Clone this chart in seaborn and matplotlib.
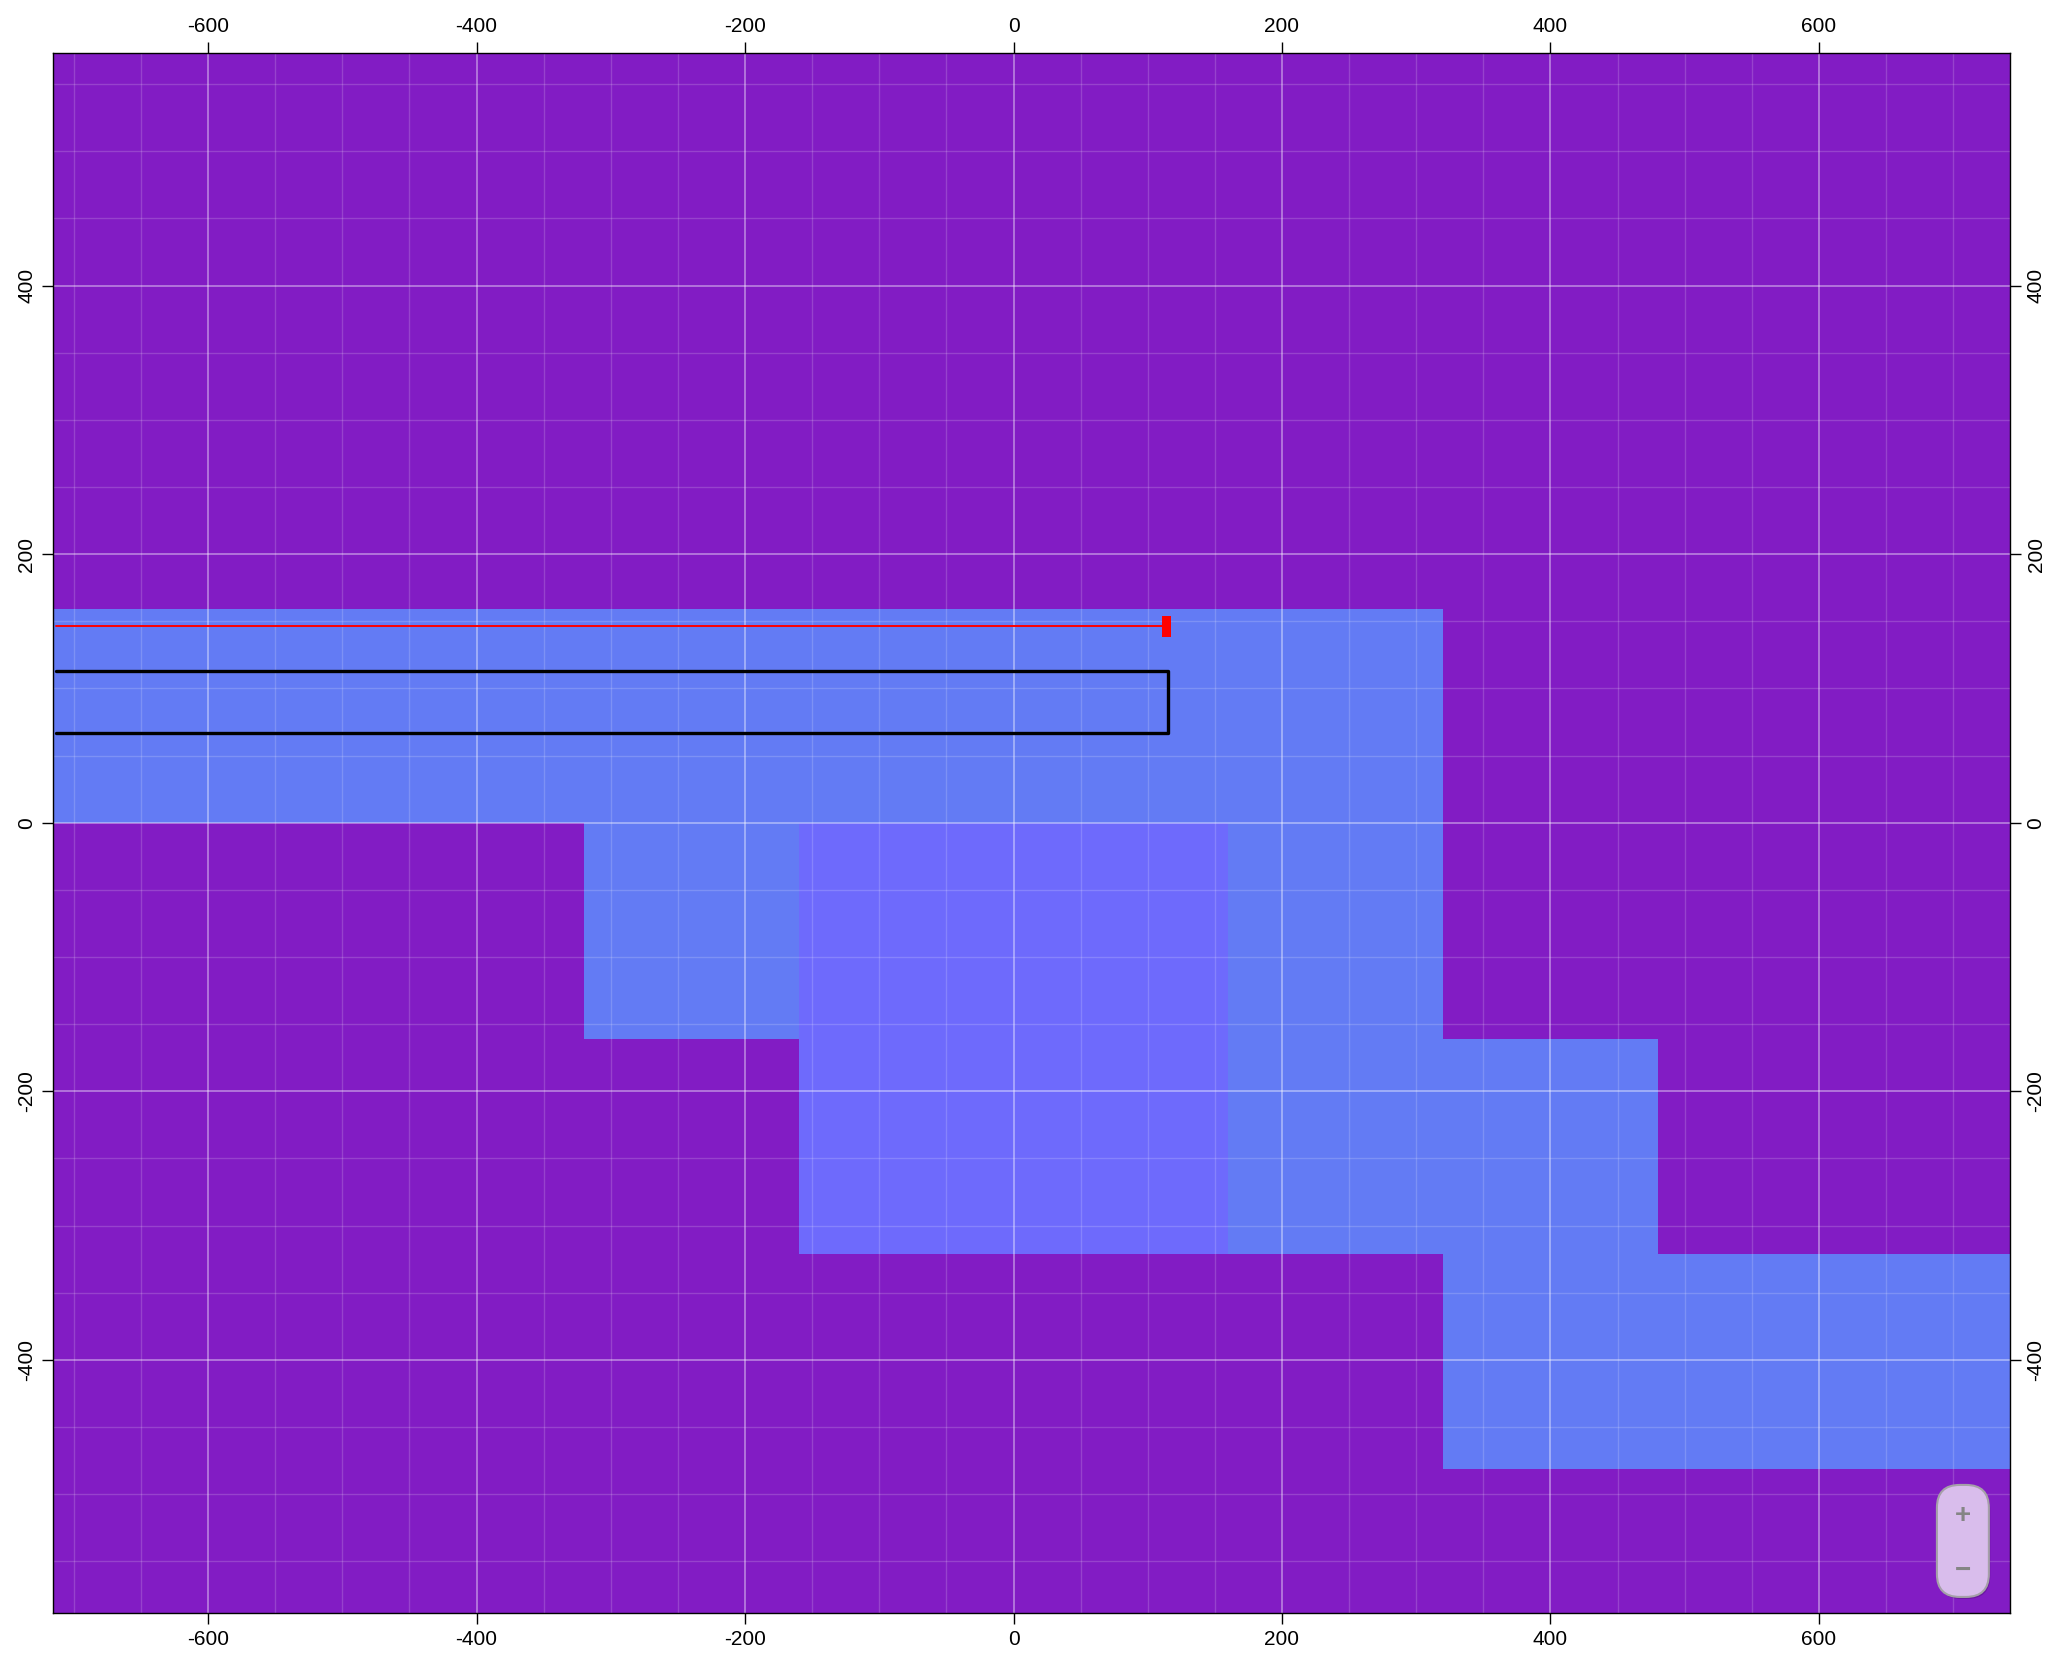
import matplotlib
matplotlib.use('Agg')
import matplotlib.pyplot as plt
import seaborn as sns
import pandas as pd
from matplotlib.patches import FancyBboxPatch
from matplotlib.ticker import MultipleLocator

# ---------------- data ----------------
# blue tiles (left, right, bottom, top) in map units
blue_left = [-800, -320, 160, 320, 320]
blue_right = [320, -160, 320, 480, 800]
blue_bottom = [0, -161, -321, -321, -481]
blue_top = [159, 0, 0, -161, -321]

# violet tile
violet_left = [-160]
violet_right = [160]
violet_bottom = [-321]
violet_top = [0]

# black outline path
path_x = [-713.4, 115.1, 115.1, -713.4]
path_y = [113.3, 113.3, 67.1, 67.1]

# red line and its end marker
red_x = [-713.4, 114.0]
red_y = [146.3, 146.3]
marker_x = [114.0]
marker_bottom = [138.6]
marker_top = [154.0]

x_limits = (-715.5, 742.3)
y_limits = (-588.4, 573.2)

# ---------------- style ----------------
sns.set_theme(style="white")
plt.rcParams['font.family'] = ['Liberation Sans', 'DejaVu Sans']
plt.rcParams['axes.unicode_minus'] = False

PURPLE = '#821CC4'
BLUE = '#637BF4'
VIOLET = '#6E6AFC'

fig = plt.figure(figsize=(20.56, 16.64), dpi=100)
ax = fig.add_axes([0.0258, 0.0307, 0.9518, 0.9375])
ax.set_facecolor(PURPLE)

ax.bar(blue_left, [t - b for t, b in zip(blue_top, blue_bottom)],
       width=[r - l for r, l in zip(blue_right, blue_left)],
       bottom=blue_bottom, align='edge', color=BLUE, linewidth=0, zorder=1)
ax.bar(violet_left, [t - b for t, b in zip(violet_top, violet_bottom)],
       width=[r - l for r, l in zip(violet_right, violet_left)],
       bottom=violet_bottom, align='edge', color=VIOLET, linewidth=0, zorder=1)

path_df = pd.DataFrame({'x': path_x, 'y': path_y})
sns.lineplot(data=path_df, x='x', y='y', sort=False, estimator=None,
             color='black', linewidth=2.4, ax=ax, zorder=3)
red_df = pd.DataFrame({'x': red_x, 'y': red_y})
sns.lineplot(data=red_df, x='x', y='y', sort=False, estimator=None,
             color='#FF0000', linewidth=1.4, ax=ax, zorder=3)
ax.bar(marker_x, [t - b for t, b in zip(marker_top, marker_bottom)], width=6.9,
       bottom=marker_bottom, align='center', color='#FF0000', linewidth=0, zorder=4)

ax.set_xlim(*x_limits)
ax.set_ylim(*y_limits)
ax.set_xlabel('')
ax.set_ylabel('')

ax.xaxis.set_major_locator(MultipleLocator(200))
ax.yaxis.set_major_locator(MultipleLocator(200))
ax.xaxis.set_minor_locator(MultipleLocator(50))
ax.yaxis.set_minor_locator(MultipleLocator(50))
ax.set_axisbelow('line')
ax.grid(which='major', color='white', alpha=0.45, linewidth=1.2)
ax.grid(which='minor', color='white', alpha=0.17, linewidth=1.0)

ax.tick_params(which='major', direction='out', length=8, width=1.0, color='black',
               top=True, right=True, bottom=True, left=True,
               labeltop=True, labelright=True, labelbottom=True, labelleft=True,
               labelsize=15, labelcolor='black', pad=4)
ax.tick_params(which='minor', length=0)
ax.tick_params(axis='y', labelrotation=90)
for t in ax.yaxis.get_major_ticks():
    t.label1.set_va('center')
    t.label2.set_va('center')

for s in ax.spines.values():
    s.set_color('black')
    s.set_linewidth(1.0)
    s.set_visible(True)

# zoom control widget
shadow = FancyBboxPatch((688.9, -578.0), 38.7, 83.4,
                        boxstyle="round,pad=0,rounding_size=17",
                        facecolor='black', edgecolor='none', alpha=0.18, zorder=5)
ax.add_patch(shadow)
box = FancyBboxPatch((687.9, -576.5), 38.7, 83.4,
                     boxstyle="round,pad=0,rounding_size=17",
                     facecolor='#D9BDEC', edgecolor='#A5A0A8', linewidth=1.5, zorder=6)
ax.add_patch(box)
ax.text(707.3, -516.0, '+', ha='center', va='center', fontsize=20,
        fontweight='bold', color='#858585', zorder=7)
ax.text(707.3, -557.0, '\u2212', ha='center', va='center', fontsize=20,
        fontweight='bold', color='#858585', zorder=7)

fig.savefig('out.png', dpi=100)
